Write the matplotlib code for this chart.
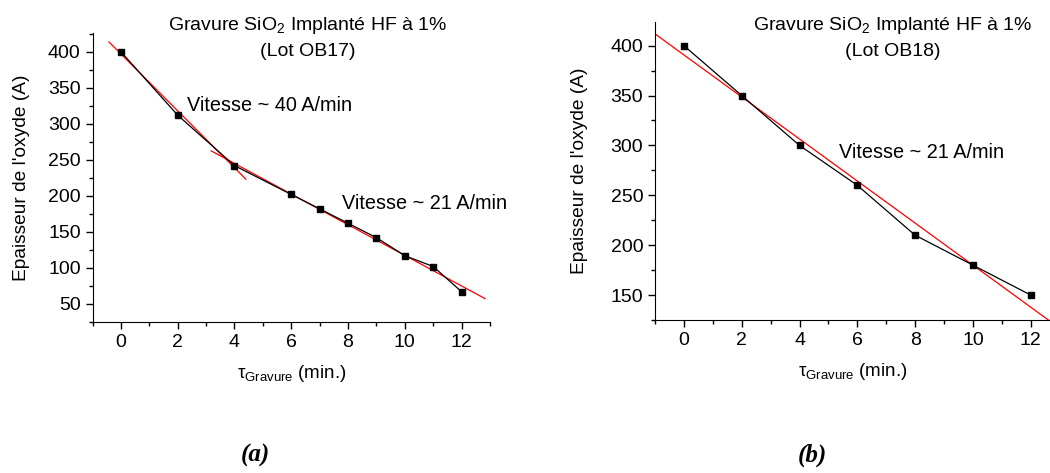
import numpy as np
import matplotlib
matplotlib.use('Agg')
import matplotlib.pyplot as plt
from matplotlib.ticker import MultipleLocator

plt.rcParams['font.family'] = 'Liberation Sans'
plt.rcParams['mathtext.fontset'] = 'custom'
plt.rcParams['mathtext.rm'] = 'Liberation Sans'
plt.rcParams['mathtext.it'] = 'Liberation Sans:italic'

# ---- data ----
t_a = [0, 2, 4, 6, 7, 8, 9, 10, 11, 12]
e_a = [400, 312, 242, 202, 182, 162, 142, 117, 102, 67]
t_b = [0, 2, 4, 6, 8, 10, 12]
e_b = [400, 350, 300, 260, 210, 180, 150]

# fit groups (indices into the series) and visible extent of each red line
fit_a1_idx, fit_a1_span = slice(0, 3), [-0.42, 4.4]
fit_a2_idx, fit_a2_span = slice(2, 10), [3.18, 12.83]
fit_b_idx, fit_b_span = slice(0, 7), [-1.0, 12.65]

W, H = 1050, 473
fig = plt.figure(figsize=(W / 100, H / 100), dpi=100)
ax1 = fig.add_axes([92.5 / W, 1 - 322 / H, (490 - 92.5) / W, (322 - 33) / H])
ax2 = fig.add_axes([655 / W, 1 - 320 / H, (1049.5 - 655) / W, (320 - 21.7) / H])


def fitline(ax, t, e, idx, span):
    p = np.polyfit(np.array(t[idx], float), np.array(e[idx], float), 1)
    xs = np.array(span)
    ax.plot(xs, np.polyval(p, xs), color='red', lw=0.9, zorder=2)


def style(ax, ylo, yhi, xhi, ypad):
    ax.set_xlim(-1, xhi)
    ax.set_ylim(ylo, yhi)
    for s in ('top', 'right'):
        ax.spines[s].set_visible(False)
    ax.xaxis.set_major_locator(MultipleLocator(2))
    ax.xaxis.set_minor_locator(MultipleLocator(1))
    ax.yaxis.set_major_locator(MultipleLocator(50))
    ax.yaxis.set_minor_locator(MultipleLocator(25))
    ax.tick_params(which='major', length=5, width=1, labelsize=14, direction='out')
    ax.tick_params(which='minor', length=3, width=1, direction='out')
    ax.set_xlabel(r'τ$_{\mathrm{Gravure}}$ (min.)', fontsize=13.5, labelpad=9)
    ax.set_ylabel("Epaisseur de l'oxyde (A)", fontsize=13.8, labelpad=ypad)


ax1.plot(t_a, e_a, color='black', lw=0.9, marker='s', ms=5, zorder=3)
fitline(ax1, t_a, e_a, fit_a1_idx, fit_a1_span)
fitline(ax1, t_a, e_a, fit_a2_idx, fit_a2_span)
style(ax1, 25, 426, 13, 13)
ax1.text(2.33, 326, 'Vitesse ~ 40 A/min', fontsize=14.3, va='center')
ax1.text(7.8, 189, 'Vitesse ~ 21 A/min', fontsize=14.3, va='center')

ax2.plot(t_b, e_b, color='black', lw=0.9, marker='s', ms=5, zorder=3)
fitline(ax2, t_b, e_b, fit_b_idx, fit_b_span)
style(ax2, 125, 424, 12.65, 16)
ax2.text(5.36, 293, 'Vitesse ~ 21 A/min', fontsize=14.3, va='center')

for cx, lot in ((308, 'OB17'), (893, 'OB18')):
    fig.text(cx / W, 1 - 25 / H, r'Gravure SiO$_2$ Implanté HF à 1%', fontsize=14,
             ha='center', va='center')
    fig.text(cx / W, 1 - 52 / H, f'(Lot {lot})', fontsize=14, ha='center', va='center')

for cx, lab in ((255, '(a)'), (812, '(b)')):
    fig.text(cx / W, 1 - 455 / H, lab, fontsize=18, family='Liberation Serif',
             weight='bold', style='italic', ha='center', va='center')

fig.savefig('out.png', dpi=100)
